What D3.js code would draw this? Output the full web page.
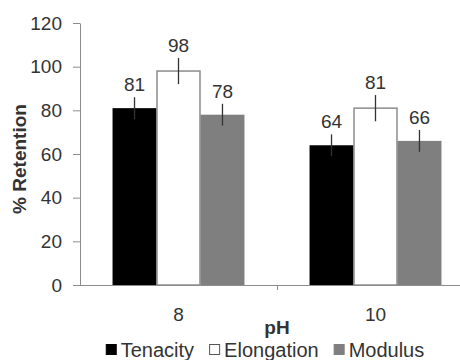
<!DOCTYPE html>
<html>
<head>
<meta charset="utf-8">
<script src="https://cdn.jsdelivr.net/npm/d3@7"></script>
<style>
  body { margin: 0; background: #fff; }
  svg { display: block; font-family: "Liberation Sans", Arial, sans-serif; }
</style>
</head>
<body>
<svg id="chart" width="460" height="360"></svg>
<script>
// data
const categories = ["8", "10"];
const seriesNames = ["Tenacity", "Elongation", "Modulus"];
const tenacity = [81, 64];
const elongation = [98, 81];
const modulus = [78, 66];
const tenacityErr = [5, 5];
const elongationErr = [6, 6];
const modulusErr = [5, 5];
const yTicks = [0, 20, 40, 60, 80, 100, 120];

const seriesValues = [tenacity, elongation, modulus];
const seriesErrors = [tenacityErr, elongationErr, modulusErr];
const fills = ["#000000", "#ffffff", "#7f7f7f"];
const strokes = ["#000000", "#8c8c8c", "#7f7f7f"];
const textCol = "#333333";
const axisCol = "#8c8c8c";

const svg = d3.select("#chart");

const x0 = d3.scaleBand().domain(categories).range([80, 474]).padding(0);
const x1 = d3.scaleBand().domain(seriesNames).range([0, x0.bandwidth()])
    .paddingInner(0).paddingOuter(0.74);
const y = d3.scaleLinear().domain([0, 120]).range([285, 23]);

// y axis
const yAxis = svg.append("g")
    .attr("transform", "translate(80,0)")
    .call(d3.axisLeft(y).tickValues(yTicks).tickSize(7).tickPadding(11).tickSizeOuter(0));
yAxis.select(".domain").attr("stroke", axisCol);
yAxis.selectAll(".tick line").attr("stroke", axisCol);
yAxis.selectAll("text").attr("fill", textCol).style("font-size", "19px");

// bars
const rows = [];
categories.forEach((c, i) => {
    seriesNames.forEach((s, j) => {
        rows.push({ cat: c, series: s, j: j, v: seriesValues[j][i], e: seriesErrors[j][i] });
    });
});

const g = svg.append("g");
g.selectAll("rect.bar")
    .data(rows)
    .enter().append("rect")
    .attr("class", "bar")
    .attr("x", d => x0(d.cat) + x1(d.series) + (d.j == 1 ? 0.5 : 0))
    .attr("y", d => y(d.v))
    .attr("width", d => x1.bandwidth() - (d.j == 1 ? 1 : 0))
    .attr("height", d => y(0) - y(d.v))
    .attr("fill", d => fills[d.j])
    .attr("stroke", d => d.j == 1 ? strokes[d.j] : "none")
    .attr("stroke-width", 1.5);

// error bars (vertical only)
g.selectAll("line.err")
    .data(rows)
    .enter().append("line")
    .attr("class", "err")
    .attr("x1", d => x0(d.cat) + x1(d.series) + x1.bandwidth() / 2)
    .attr("x2", d => x0(d.cat) + x1(d.series) + x1.bandwidth() / 2)
    .attr("y1", d => y(d.v + d.e))
    .attr("y2", d => y(d.v - d.e))
    .attr("stroke", "#333")
    .attr("stroke-width", 1.3);

// value labels
g.selectAll("text.val")
    .data(rows)
    .enter().append("text")
    .attr("class", "val")
    .attr("x", d => x0(d.cat) + x1(d.series) + x1.bandwidth() / 2)
    .attr("y", d => y(d.v + d.e) - 6)
    .attr("text-anchor", "middle")
    .attr("fill", textCol)
    .style("font-size", "19px")
    .text(d => d.v);

// x axis
const xAxis = svg.append("g")
    .attr("transform", "translate(0,285)")
    .call(d3.axisBottom(x0).tickSize(0).tickPadding(23).tickSizeOuter(0));
xAxis.select(".domain").attr("stroke", axisCol).attr("d", "M73,0.5H474");
xAxis.selectAll("text").attr("fill", textCol).style("font-size", "19px");
// boundary ticks between categories
xAxis.selectAll("line.sep")
    .data(categories.slice(1))
    .enter().append("line")
    .attr("class", "sep")
    .attr("x1", d => x0(d) + 0.5)
    .attr("x2", d => x0(d) + 0.5)
    .attr("y1", 0)
    .attr("y2", 5)
    .attr("stroke", axisCol);

// axis titles
svg.append("text")
    .attr("transform", "translate(26,159) rotate(-90)")
    .attr("text-anchor", "middle")
    .attr("fill", textCol)
    .style("font-size", "19px")
    .style("font-weight", "bold")
    .text("% Retention");

svg.append("text")
    .attr("x", 277)
    .attr("y", 334)
    .attr("text-anchor", "middle")
    .attr("fill", textCol)
    .style("font-size", "19px")
    .style("font-weight", "bold")
    .text("pH");

// legend
const legend = svg.append("g");
let lx = 0;
seriesNames.forEach((s, j) => {
    const item = legend.append("g").attr("transform", "translate(" + lx + ",0)");
    item.append("rect")
        .attr("x", 0.5).attr("y", -12.5)
        .attr("width", 10).attr("height", 10)
        .attr("fill", fills[j])
        .attr("stroke", j == 1 ? "#555" : fills[j]);
    const t = item.append("text")
        .attr("x", 15)
        .attr("y", 0)
        .attr("fill", textCol)
        .style("font-size", "20px")
        .text(s);
    lx += 15 + t.node().getComputedTextLength() + 15;
});
const legendW = lx - 15;
legend.attr("transform", "translate(" + (265 - legendW / 2) + ",357)");
</script>
</body>
</html>
